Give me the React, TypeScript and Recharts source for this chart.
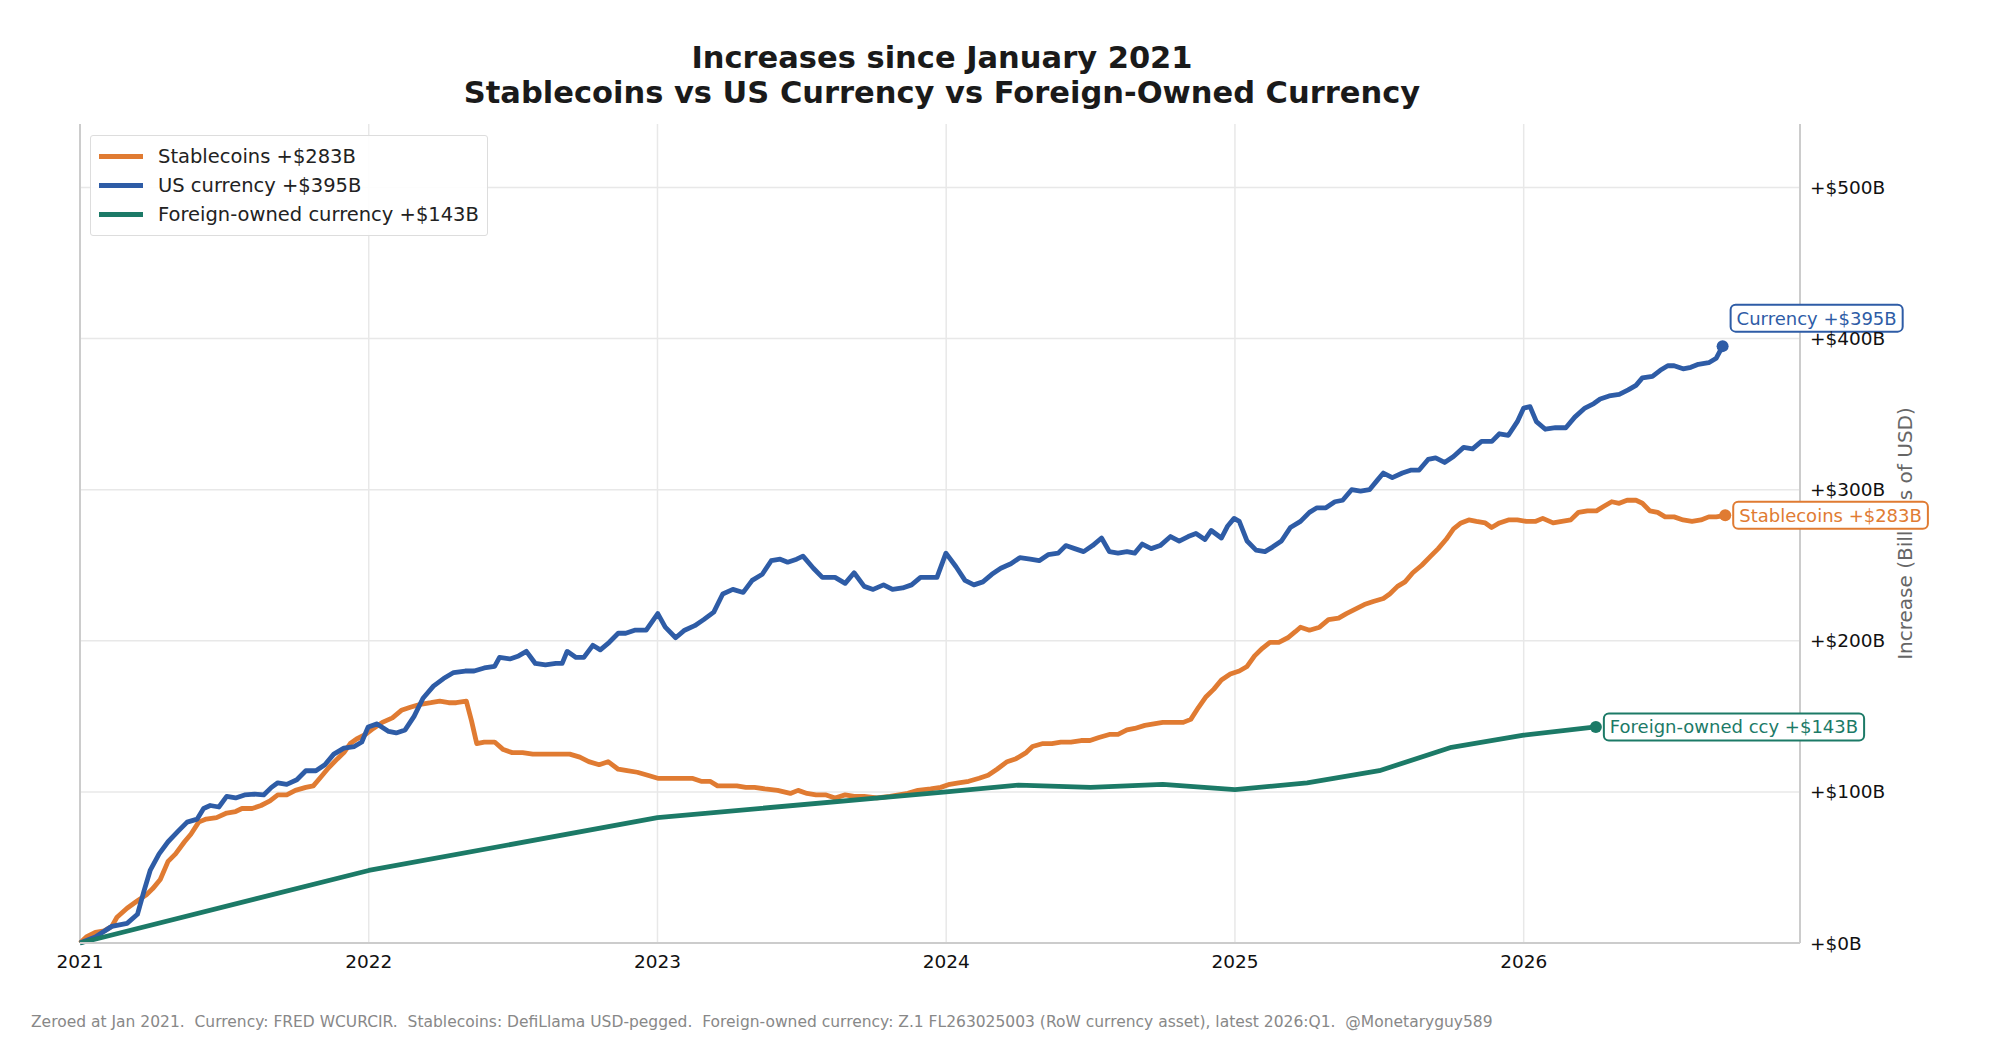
import React from 'react';
import { LineChart, Line, XAxis, YAxis, CartesianGrid, ReferenceLine, Label } from 'recharts';

const yearTicks = [2021, 2022, 2023, 2024, 2025, 2026];
const valueTicks = [0, 100, 200, 300, 400, 500];
const yMax = 542;

// [decimal year, increase since Jan 2021 in $B]
const stablecoins: [number, number][] = [
  [2021.0, 0], [2021.022, 4], [2021.053, 7], [2021.084, 8], [2021.11, 11], [2021.128, 17],
  [2021.163, 23], [2021.199, 28], [2021.23, 32], [2021.252, 36], [2021.278, 42], [2021.305, 54],
  [2021.331, 59], [2021.362, 67], [2021.384, 72], [2021.411, 80], [2021.437, 82], [2021.473, 83],
  [2021.508, 86], [2021.539, 87], [2021.561, 89], [2021.596, 89], [2021.627, 91], [2021.658, 94],
  [2021.685, 98], [2021.716, 98], [2021.746, 101], [2021.782, 103], [2021.808, 104], [2021.835, 110],
  [2021.861, 116], [2021.892, 122], [2021.914, 126], [2021.936, 132], [2021.958, 135], [2021.989, 138],
  [2022.016, 142], [2022.047, 146], [2022.082, 149], [2022.113, 154], [2022.144, 156], [2022.179, 158],
  [2022.215, 159], [2022.246, 160], [2022.277, 159], [2022.303, 159], [2022.338, 160], [2022.356, 147],
  [2022.374, 132], [2022.4, 133], [2022.436, 133], [2022.466, 128], [2022.497, 126], [2022.533, 126],
  [2022.568, 125], [2022.599, 125], [2022.634, 125], [2022.665, 125], [2022.696, 125], [2022.731, 123],
  [2022.762, 120], [2022.798, 118], [2022.829, 120], [2022.864, 115], [2022.895, 114], [2022.93, 113],
  [2022.966, 111], [2023.001, 109], [2023.041, 109], [2023.085, 109], [2023.12, 109], [2023.151, 107],
  [2023.182, 107], [2023.208, 104], [2023.239, 104], [2023.275, 104], [2023.306, 103], [2023.336, 103],
  [2023.372, 102], [2023.416, 101], [2023.46, 99], [2023.487, 101], [2023.518, 99], [2023.549, 98],
  [2023.584, 98], [2023.615, 96], [2023.65, 98], [2023.681, 97], [2023.716, 97], [2023.76, 96],
  [2023.805, 97], [2023.836, 98], [2023.867, 99], [2023.902, 101], [2023.946, 102], [2023.981, 103],
  [2024.012, 105], [2024.043, 106], [2024.078, 107], [2024.114, 109], [2024.145, 111], [2024.176, 115],
  [2024.211, 120], [2024.242, 122], [2024.277, 126], [2024.299, 130], [2024.335, 132], [2024.366, 132],
  [2024.397, 133], [2024.432, 133], [2024.467, 134], [2024.498, 134], [2024.529, 136], [2024.565, 138],
  [2024.595, 138], [2024.626, 141], [2024.653, 142], [2024.688, 144], [2024.719, 145], [2024.75, 146],
  [2024.785, 146], [2024.821, 146], [2024.847, 148], [2024.874, 156], [2024.9, 163], [2024.927, 168],
  [2024.953, 174], [2024.984, 178], [2025.015, 180], [2025.042, 183], [2025.068, 190], [2025.095, 195],
  [2025.121, 199], [2025.152, 199], [2025.183, 202], [2025.209, 206], [2025.227, 209], [2025.258, 207],
  [2025.293, 209], [2025.324, 214], [2025.359, 215], [2025.386, 218], [2025.417, 221], [2025.448, 224],
  [2025.479, 226], [2025.514, 228], [2025.536, 231], [2025.563, 236], [2025.589, 239], [2025.616, 245],
  [2025.647, 250], [2025.678, 256], [2025.704, 261], [2025.731, 267], [2025.757, 274], [2025.783, 278],
  [2025.81, 280], [2025.836, 279], [2025.867, 278], [2025.889, 275], [2025.916, 278], [2025.947, 280],
  [2025.978, 280], [2026.009, 279], [2026.04, 279], [2026.066, 281], [2026.102, 278], [2026.132, 279],
  [2026.163, 280], [2026.19, 285], [2026.221, 286], [2026.252, 286], [2026.278, 289], [2026.305, 292],
  [2026.331, 291], [2026.358, 293], [2026.389, 293], [2026.411, 291], [2026.437, 286], [2026.464, 285],
  [2026.49, 282], [2026.521, 282], [2026.552, 280], [2026.583, 279], [2026.614, 280], [2026.641, 282],
  [2026.667, 282], [2026.698, 283],
];

const usCurrency: [number, number][] = [
  [2021.0, 0], [2021.053, 4], [2021.11, 11], [2021.163, 13], [2021.199, 19], [2021.221, 34],
  [2021.243, 48], [2021.274, 59], [2021.305, 67], [2021.34, 74], [2021.371, 80], [2021.406, 82],
  [2021.428, 89], [2021.451, 91], [2021.481, 90], [2021.508, 97], [2021.539, 96], [2021.57, 98],
  [2021.605, 98.5], [2021.636, 98], [2021.663, 103], [2021.685, 106], [2021.716, 105], [2021.751, 108],
  [2021.782, 114], [2021.817, 114], [2021.848, 118], [2021.879, 125], [2021.914, 129], [2021.95, 130],
  [2021.976, 133], [2021.998, 143], [2022.029, 145], [2022.069, 140], [2022.095, 139], [2022.126, 141],
  [2022.157, 150], [2022.188, 162], [2022.224, 170], [2022.259, 175], [2022.294, 179], [2022.334, 180],
  [2022.365, 180], [2022.4, 182], [2022.436, 183], [2022.453, 189], [2022.489, 188], [2022.519, 190],
  [2022.546, 193], [2022.577, 185], [2022.612, 184], [2022.648, 185], [2022.67, 185], [2022.687, 193],
  [2022.718, 189], [2022.745, 189], [2022.776, 197], [2022.802, 194], [2022.833, 199], [2022.864, 205],
  [2022.89, 205], [2022.921, 207], [2022.961, 207], [2023.001, 218], [2023.027, 209], [2023.063, 202],
  [2023.094, 207], [2023.129, 210], [2023.16, 214], [2023.195, 219], [2023.226, 231], [2023.261, 234],
  [2023.297, 232], [2023.328, 240], [2023.363, 244], [2023.394, 253], [2023.425, 254], [2023.451, 252],
  [2023.482, 254], [2023.504, 256], [2023.54, 248], [2023.571, 242], [2023.615, 242], [2023.65, 238],
  [2023.681, 245], [2023.716, 236], [2023.747, 234], [2023.783, 237], [2023.814, 234], [2023.849, 235],
  [2023.88, 237], [2023.911, 242], [2023.946, 242], [2023.968, 242], [2023.999, 258], [2024.034, 249],
  [2024.065, 240], [2024.096, 237], [2024.127, 239], [2024.158, 244], [2024.189, 248], [2024.224, 251],
  [2024.255, 255], [2024.291, 254], [2024.322, 253], [2024.353, 257], [2024.388, 258], [2024.414, 263],
  [2024.445, 261], [2024.476, 259], [2024.507, 263], [2024.538, 268], [2024.565, 259], [2024.595, 258],
  [2024.626, 259], [2024.653, 258], [2024.679, 264], [2024.71, 261], [2024.741, 263], [2024.777, 269],
  [2024.807, 266], [2024.838, 269], [2024.865, 271], [2024.896, 267], [2024.918, 273], [2024.953, 268],
  [2024.975, 276], [2024.997, 281], [2025.015, 279], [2025.042, 266], [2025.073, 260], [2025.104, 259],
  [2025.13, 262], [2025.161, 266], [2025.192, 275], [2025.227, 279], [2025.258, 285], [2025.284, 288],
  [2025.315, 288], [2025.346, 292], [2025.373, 293], [2025.404, 300], [2025.435, 299], [2025.466, 300],
  [2025.492, 306], [2025.514, 311], [2025.545, 308], [2025.58, 311], [2025.611, 313], [2025.638, 313],
  [2025.669, 320], [2025.695, 321], [2025.726, 318], [2025.757, 322], [2025.792, 328], [2025.823, 327],
  [2025.854, 332], [2025.89, 332], [2025.916, 337], [2025.947, 336], [2025.978, 345], [2026.0, 354],
  [2026.022, 355], [2026.044, 345], [2026.075, 340], [2026.11, 341], [2026.146, 341], [2026.177, 348],
  [2026.212, 354], [2026.243, 357], [2026.265, 360], [2026.296, 362], [2026.331, 363], [2026.362, 366],
  [2026.389, 369], [2026.411, 374], [2026.446, 375], [2026.473, 379], [2026.499, 382], [2026.521, 382],
  [2026.552, 380], [2026.579, 381], [2026.605, 383], [2026.641, 384], [2026.667, 387], [2026.689, 395],
];

const foreignOwned: [number, number][] = [
  [2021.0, 0], [2022.0, 48], [2023.0, 83], [2024.0, 100], [2024.25, 104.5], [2024.5, 103],
  [2024.75, 105], [2025.0, 101.5], [2025.25, 106], [2025.5, 114], [2025.75, 129.5], [2026.0, 137.5],
  [2026.25, 143],
];

const FONT = '"DejaVu Sans", Verdana, sans-serif';

const series = [
  { key: 'stable', legend: 'Stablecoins', endLabel: 'Stablecoins', color: '#e07b32', points: stablecoins, labelDy: 0 },
  { key: 'us', legend: 'US currency', endLabel: 'Currency', color: '#2e5ca6', points: usCurrency, labelDy: -28 },
  { key: 'foreign', legend: 'Foreign-owned currency', endLabel: 'Foreign-owned ccy', color: '#1c7a67', points: foreignOwned, labelDy: 0 },
];

const fmtB = (v: number) => `+$${Math.round(v)}B`;

let measureCtx: CanvasRenderingContext2D | null = null;
function textWidth(text: string, size: number) {
  if (!measureCtx) measureCtx = document.createElement('canvas').getContext('2d');
  if (!measureCtx) return text.length * size * 0.6;
  measureCtx.font = `${size}px ${FONT}`;
  return measureCtx.measureText(text).width;
}

function endDot(s: typeof series[number]) {
  const last = s.points.length - 1;
  const text = `${s.endLabel} ${fmtB(s.points[last][1])}`;
  return (props: any) => {
    const { cx, cy, index } = props;
    if (index !== last || cx == null || cy == null) return <g key={`${s.key}-${index}`} />;
    const w = textWidth(text, 18) + 12;
    const h = 27;
    const bx = cx + 8;
    const by = cy + s.labelDy - h / 2;
    return (
      <g key={`${s.key}-end`}>
        <circle cx={cx} cy={cy} r={6} fill={s.color} />
        <rect x={bx} y={by} width={w} height={h} rx={5} ry={5} fill="#fff" stroke={s.color} strokeWidth={2} />
        <text x={bx + 6} y={by + h / 2} dominantBaseline="central" fill={s.color} fontSize={18} fontFamily={FONT}>
          {text}
        </text>
      </g>
    );
  };
}

const axisTitle = (props: any) => {
  const vb = props.viewBox || {};
  const x = (vb.x ?? 1800) + 105;
  const y = (vb.y ?? 124) + (vb.height ?? 819) / 2;
  return (
    <text x={x} y={y} transform={`rotate(-90 ${x} ${y})`} textAnchor="middle" dominantBaseline="central"
      fill="#666" fontSize={20} fontFamily={FONT}>
      Increase (Billions of USD)
    </text>
  );
};

// grid only at the tick values, nothing along the top edge
const gridRows = ({ yAxis, offset }: any) =>
  valueTicks.map((v) =>
    typeof yAxis?.scale === 'function' ? yAxis.scale(v) : offset.top + offset.height * (1 - v / yMax),
  );

export default function App() {
  return (
    <div style={{ position: 'relative', width: 2000, height: 1049, fontFamily: FONT, background: '#fff' }}>
      <style>{'body{margin:0}'}</style>

      <div style={{ position: 'absolute', left: 0, width: 1884, top: 40, lineHeight: '36px', textAlign: 'center', fontSize: 30.5, fontWeight: 'bold', color: '#1a1a1a' }}>
        Increases since January 2021
      </div>
      <div style={{ position: 'absolute', left: 0, width: 1884, top: 75, lineHeight: '36px', textAlign: 'center', fontSize: 30.5, fontWeight: 'bold', color: '#1a1a1a' }}>
        Stablecoins vs US Currency vs Foreign-Owned Currency
      </div>

      <LineChart width={2000} height={1049} margin={{ top: 124, right: 0, bottom: 76, left: 80 }}>
        <CartesianGrid stroke="#e8e8e8" strokeWidth={1.5} horizontalCoordinatesGenerator={gridRows} />
        <XAxis
          dataKey="x"
          type="number"
          domain={[2021, 2026.957]}
          ticks={yearTicks}
          interval={0}
          height={30}
          tick={{ fill: '#111', fontSize: 18.5, fontFamily: FONT }}
          tickLine={false}
          tickSize={0}
          tickMargin={12}
          axisLine={{ stroke: '#cccccc', strokeWidth: 2 }}
        />
        <YAxis
          orientation="right"
          type="number"
          domain={[0, yMax]}
          ticks={valueTicks}
          interval={0}
          width={200}
          tickFormatter={fmtB}
          tick={{ fill: '#111', fontSize: 18.5, fontFamily: FONT }}
          tickLine={false}
          tickSize={0}
          tickMargin={10}
          axisLine={{ stroke: '#cccccc', strokeWidth: 2 }}
        >
          <Label content={axisTitle} />
        </YAxis>
        <ReferenceLine x={2021} stroke="#cccccc" strokeWidth={2} />
        {series.map((s) => (
          <Line
            key={s.key}
            data={s.points.map(([x, v]) => ({ x, v }))}
            dataKey="v"
            name={s.legend}
            type="linear"
            stroke={s.color}
            strokeWidth={4.8}
            strokeLinejoin="round"
            dot={endDot(s)}
            activeDot={false}
            isAnimationActive={false}
          />
        ))}
      </LineChart>

      <div style={{ position: 'absolute', left: 90, top: 135, width: 396, height: 99, border: '1px solid #dddddd', borderRadius: 3, background: 'rgba(255,255,255,0.9)', zIndex: 2 }}>
        {series.map((s, i) => (
          <div key={s.key} style={{ position: 'absolute', left: 0, top: 6 + i * 29, height: 29, width: '100%' }}>
            <div style={{ position: 'absolute', left: 8, top: 12, width: 44, height: 5, background: s.color }} />
            <div style={{ position: 'absolute', left: 67, top: 0, lineHeight: '29px', fontSize: 19.5, color: '#222', whiteSpace: 'nowrap' }}>
              {`${s.legend} ${fmtB(s.points[s.points.length - 1][1])}`}
            </div>
          </div>
        ))}
      </div>

      <div style={{ position: 'absolute', left: 31, top: 1010, lineHeight: '24px', fontSize: 15.5, color: '#888', whiteSpace: 'pre' }}>
        {'Zeroed at Jan 2021.  Currency: FRED WCURCIR.  Stablecoins: DefiLlama USD-pegged.  Foreign-owned currency: Z.1 FL263025003 (RoW currency asset), latest 2026:Q1.  @Monetaryguy589'}
      </div>
    </div>
  );
}
